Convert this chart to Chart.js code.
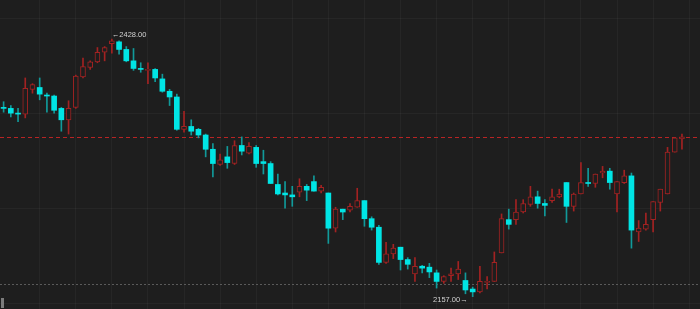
<!DOCTYPE html>
<html>
<head>
<meta charset="utf-8">
<script src="https://cdn.jsdelivr.net/npm/chart.js@4"></script>
<style>
    html, body { margin: 0; padding: 0; background: #1e1e1e; }
    canvas { display: block; }
</style>
</head>
<body>
<canvas id="kChart" width="700" height="309"></canvas>
<script>
// daily candles
const opens = [2356, 2355, 2350, 2349, 2375, 2377, 2369, 2368, 2355, 2343,
    2356, 2388, 2398, 2404, 2414, 2423, 2425, 2417, 2405, 2397,
    2395, 2396, 2386, 2373, 2367, 2333, 2336, 2333, 2327, 2312,
    2296, 2304, 2297, 2316, 2308, 2314, 2299, 2297, 2275, 2266,
    2264, 2267, 2273, 2278, 2268, 2266, 2229, 2249, 2248, 2251,
    2258, 2239, 2230, 2193, 2202, 2209, 2196, 2181, 2189, 2188,
    2182, 2173, 2179, 2181, 2174, 2165, 2162, 2172, 2173, 2203,
    2238, 2238, 2246, 2254, 2262, 2255, 2258, 2262, 2277, 2252,
    2265, 2277, 2276, 2287, 2289, 2265, 2277, 2284, 2225, 2228,
    2238, 2256, 2265, 2309, 2323];
const highs = [2362, 2358, 2355, 2387, 2381, 2387, 2371, 2369, 2356, 2363,
    2390, 2408, 2405, 2419, 2420, 2428, 2426, 2420, 2418, 2403,
    2403, 2397, 2391, 2375, 2370, 2352, 2343, 2334, 2328, 2318,
    2307, 2315, 2321, 2325, 2319, 2316, 2311, 2299, 2286, 2278,
    2273, 2281, 2275, 2284, 2274, 2266, 2251, 2249, 2255, 2271,
    2258, 2241, 2232, 2214, 2212, 2209, 2198, 2198, 2190, 2192,
    2185, 2179, 2187, 2194, 2182, 2167, 2189, 2178, 2204, 2244,
    2249, 2259, 2259, 2273, 2268, 2259, 2270, 2270, 2277, 2266,
    2298, 2292, 2286, 2294, 2292, 2278, 2290, 2287, 2237, 2245,
    2257, 2270, 2314, 2324, 2328];
const lows = [2351, 2346, 2341, 2345, 2371, 2364, 2351, 2350, 2331, 2328,
    2355, 2387, 2396, 2403, 2405, 2413, 2412, 2404, 2395, 2393,
    2381, 2383, 2372, 2358, 2332, 2330, 2327, 2324, 2304, 2283,
    2295, 2292, 2296, 2306, 2307, 2293, 2286, 2276, 2264, 2250,
    2252, 2262, 2258, 2268, 2266, 2213, 2225, 2238, 2246, 2251,
    2231, 2227, 2191, 2192, 2197, 2185, 2186, 2173, 2182, 2177,
    2166, 2171, 2173, 2175, 2160, 2157, 2161, 2165, 2173, 2203,
    2228, 2233, 2245, 2252, 2250, 2242, 2256, 2261, 2235, 2247,
    2265, 2273, 2272, 2282, 2270, 2246, 2276, 2208, 2215, 2227,
    2225, 2247, 2265, 2309, 2312];
const closes = [2355, 2350, 2349, 2376, 2380, 2370, 2368, 2353, 2343, 2355,
    2389, 2399, 2404, 2414, 2419, 2426, 2417, 2405, 2397, 2396,
    2396, 2387, 2373, 2367, 2333, 2336, 2331, 2327, 2312, 2297,
    2301, 2298, 2316, 2310, 2315, 2297, 2297, 2276, 2265, 2264,
    2262, 2273, 2269, 2268, 2272, 2229, 2249, 2246, 2252, 2258,
    2239, 2230, 2193, 2202, 2208, 2196, 2191, 2189, 2187, 2183,
    2173, 2178, 2181, 2186, 2164, 2162, 2173, 2173, 2193, 2239,
    2233, 2246, 2255, 2262, 2255, 2253, 2262, 2265, 2252, 2265,
    2277, 2276, 2286, 2289, 2277, 2278, 2284, 2227, 2229, 2233,
    2257, 2270, 2309, 2324, 2325];

// two empty slots on the right
const labels = Array.from({ length: opens.length + 2 }, (_, i) => String(i + 1));
const gridValues = [2150, 2250, 2350, 2450];
const lastPrice = 2325;
const refPrice = 2170;
const highMark = { index: 15, text: '\u2190' + '2428.00' };
const lowMark = { index: 65, text: '2157.00' + '\u2192' };

const BG = '#1e1e1e';
const RED = '#a32222';
const CYAN = '#00e5e5';
const TEAL = '#119a9a';
const GRID = 'rgba(255, 255, 255, 0.04)';

const isUp = i => closes[i] >= opens[i];

const overlay = {
    id: 'overlay',
    beforeDraw(chart) {
        const c = chart.ctx;
        c.save();
        c.fillStyle = BG;
        c.fillRect(0, 0, chart.width, chart.height);
        c.restore();
    },
    beforeDatasetsDraw(chart) {
        const c = chart.ctx;
        const area = chart.chartArea;
        const y = chart.scales.y;
        c.save();
        c.lineWidth = 1;
        // last price line
        let py = Math.round(y.getPixelForValue(lastPrice)) + 0.5;
        c.strokeStyle = '#b82424';
        c.setLineDash([4, 3]);
        c.beginPath();
        c.moveTo(area.left, py);
        c.lineTo(area.right, py);
        c.stroke();
        // grey reference line
        py = Math.round(y.getPixelForValue(refPrice)) + 0.5;
        c.strokeStyle = '#5a5a5a';
        c.setLineDash([2, 2]);
        c.beginPath();
        c.moveTo(area.left, py);
        c.lineTo(area.right, py);
        c.stroke();
        c.restore();
    },
    afterDatasetsDraw(chart) {
        const c = chart.ctx;
        const x = chart.scales.x;
        const y = chart.scales.y;
        c.save();
        c.font = "7.5px 'Liberation Sans', Arial, sans-serif";
        c.fillStyle = '#d2d2d2';
        c.textBaseline = 'middle';
        c.textAlign = 'left';
        c.fillText(highMark.text, x.getPixelForValue(highMark.index),
            y.getPixelForValue(highs[highMark.index]) - 4);
        c.textAlign = 'right';
        c.fillText(lowMark.text, x.getPixelForValue(lowMark.index) - 5,
            y.getPixelForValue(lows[lowMark.index]) + 3);
        // scroll handle bottom left
        c.fillStyle = '#7c7c7c';
        c.fillRect(1, 298, 3, 10);
        c.restore();
    }
};

const ctx = document.getElementById('kChart').getContext('2d');
const kChart = new Chart(ctx, {
    type: 'bar',
    data: {
        labels: labels,
        datasets: [{
            label: 'body',
            data: opens.map((o, i) => [o, closes[i]]),
            grouped: false,
            barThickness: 5,
            minBarLength: 1,
            backgroundColor: c => isUp(c.dataIndex) ? BG : CYAN,
            borderColor: c => isUp(c.dataIndex) ? RED : CYAN,
            borderWidth: c => isUp(c.dataIndex) ? 1 : 0,
            borderSkipped: false
        }, {
            label: 'wick',
            data: lows.map((l, i) => [l, highs[i]]),
            grouped: false,
            barThickness: 1,
            backgroundColor: c => isUp(c.dataIndex) ? RED : TEAL,
            borderWidth: 0
        }]
    },
    options: {
        responsive: false,
        animation: false,
        layout: { padding: 0 },
        plugins: {
            legend: { display: false },
            tooltip: { enabled: false }
        },
        scales: {
            x: {
                offset: true,
                ticks: { display: false },
                border: { display: false },
                grid: {
                    offset: false,
                    drawTicks: false,
                    color: c => (c.index > 0 && c.index % 5 === 0) ? GRID : 'transparent'
                }
            },
            y: {
                min: 2144,
                max: 2469,
                ticks: { display: false },
                border: { display: false },
                grid: { drawTicks: false, color: GRID },
                afterBuildTicks: axis => {
                    axis.ticks = gridValues.map(v => ({ value: v }));
                }
            }
        }
    },
    plugins: [overlay]
});
</script>
</body>
</html>
